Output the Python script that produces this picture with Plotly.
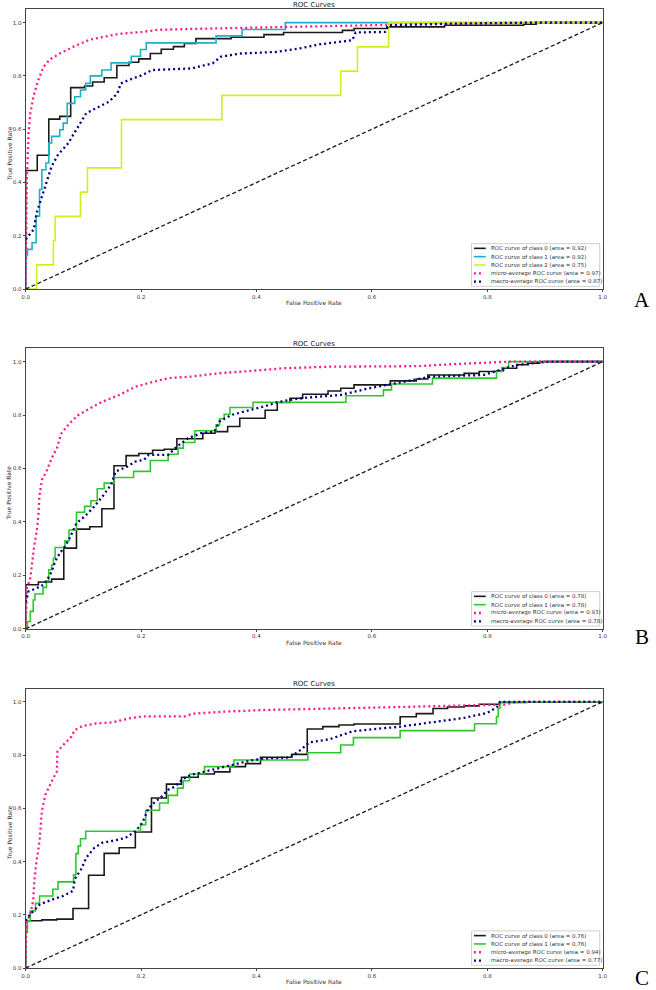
import plotly.graph_objects as go

W, H = 656, 990

# ---------------- Panel A data ----------------
A_c0_fpr = [0, 0, 0.020, 0.040, 0.059, 0.078, 0.102, 0.116, 0.136, 0.158, 0.179, 0.196, 0.216, 0.235, 0.256,
            0.275, 0.295, 0.356, 0.413, 0.447, 0.549, 0.569, 0.626, 0.726, 0.863, 0.885, 1.0]
A_c0_tpr = [0, 0.445, 0.502, 0.638, 0.648, 0.756, 0.762, 0.777, 0.793, 0.839, 0.851, 0.864, 0.884, 0.900, 0.910,
            0.922, 0.940, 0.945, 0.955, 0.963, 0.971, 0.978, 0.984, 0.990, 0.994, 1.0, 1.0]
A_c1_fpr = [0, 0, 0.003, 0.011, 0.018, 0.024, 0.028, 0.035, 0.040, 0.045, 0.059, 0.065, 0.072, 0.085, 0.095,
            0.104, 0.112, 0.132, 0.148, 0.183, 0.199, 0.209, 0.330, 0.375, 0.450, 1.0]
A_c1_tpr = [0, 0.125, 0.149, 0.174, 0.274, 0.374, 0.448, 0.473, 0.548, 0.573, 0.598, 0.623, 0.697, 0.722, 0.747,
            0.772, 0.800, 0.822, 0.849, 0.874, 0.899, 0.924, 0.950, 0.974, 1.0, 1.0]
A_c2_fpr = [0, 0.019, 0.048, 0.051, 0.095, 0.107, 0.166, 0.340, 0.546, 0.575, 0.629, 1.0]
A_c2_tpr = [0, 0.091, 0.182, 0.273, 0.364, 0.455, 0.636, 0.727, 0.818, 0.909, 1.0, 1.0]
A_micro_fpr = [0, 0.001, 0.002, 0.005, 0.008, 0.014, 0.022, 0.031, 0.042, 0.059, 0.085, 0.111, 0.133, 0.162,
               0.202, 0.230, 0.304, 0.418, 0.51, 0.62, 0.68, 0.80, 0.90, 1.0]
A_micro_tpr = [0, 0.30, 0.41, 0.585, 0.66, 0.728, 0.785, 0.834, 0.862, 0.884, 0.912, 0.936, 0.946, 0.958,
               0.965, 0.973, 0.977, 0.983, 0.988, 0.991, 0.993, 0.997, 1.0, 1.0]
A_macro_fpr = [0, 0.014, 0.019, 0.028, 0.036, 0.045, 0.056, 0.074, 0.091, 0.105, 0.122, 0.145, 0.159, 0.165,
               0.179, 0.202, 0.219, 0.247, 0.287, 0.324, 0.338, 0.373, 0.435, 0.475, 0.509, 0.566, 0.572, 0.623,
               0.629, 0.737, 0.88, 1.0]
A_macro_tpr = [0.187, 0.224, 0.286, 0.349, 0.398, 0.461, 0.504, 0.548, 0.610, 0.660, 0.679, 0.704, 0.735, 0.772,
               0.785, 0.803, 0.822, 0.824, 0.828, 0.847, 0.872, 0.884, 0.890, 0.903, 0.918, 0.934, 0.963, 0.965,
               0.990, 0.996, 1.0, 1.0]

# ---------------- Panel B data ----------------
B_c0_fpr = [0, 0, 0.022, 0.045, 0.066, 0.088, 0.111, 0.132, 0.153, 0.174, 0.196, 0.220, 0.240, 0.262, 0.307,
            0.328, 0.350, 0.371, 0.415, 0.436, 0.458, 0.480, 0.524, 0.546, 0.569, 0.632, 0.677, 0.697, 0.760,
            0.786, 0.816, 0.828, 0.851, 0.871, 0.891, 1.0]
B_c0_tpr = [0, 0.165, 0.175, 0.186, 0.302, 0.373, 0.382, 0.449, 0.610, 0.648, 0.656, 0.668, 0.672, 0.711, 0.732,
            0.738, 0.757, 0.788, 0.818, 0.847, 0.863, 0.878, 0.890, 0.900, 0.913, 0.928, 0.935, 0.950, 0.956,
            0.963, 0.966, 0.975, 0.988, 0.994, 1.0, 1.0]
B_c1_fpr = [0, 0.003, 0.008, 0.013, 0.016, 0.030, 0.036, 0.040, 0.045, 0.048, 0.051, 0.068, 0.075, 0.088, 0.102,
            0.113, 0.124, 0.136, 0.153, 0.187, 0.216, 0.247, 0.264, 0.273, 0.293, 0.330, 0.336, 0.344, 0.354,
            0.394, 0.555, 0.620, 0.634, 0.705, 0.816, 0.825, 0.837, 1.0]
B_c1_tpr = [0, 0.027, 0.065, 0.108, 0.130, 0.155, 0.180, 0.221, 0.239, 0.264, 0.304, 0.329, 0.370, 0.436, 0.458,
            0.479, 0.524, 0.545, 0.566, 0.589, 0.630, 0.653, 0.676, 0.697, 0.741, 0.763, 0.786, 0.803, 0.828,
            0.848, 0.872, 0.894, 0.916, 0.938, 0.963, 0.978, 1.0, 1.0]
B_micro_fpr = [0, 0.001, 0.002, 0.008, 0.011, 0.015, 0.019, 0.022, 0.024, 0.028, 0.036, 0.045, 0.054, 0.062,
               0.076, 0.091, 0.111, 0.133, 0.162, 0.190, 0.219, 0.247, 0.287, 0.333, 0.390, 0.447, 0.527, 0.68,
               0.737, 0.84, 1.0]
B_micro_tpr = [0, 0.10, 0.15, 0.19, 0.252, 0.314, 0.364, 0.426, 0.501, 0.557, 0.589, 0.638, 0.676, 0.732,
               0.769, 0.800, 0.825, 0.850, 0.875, 0.906, 0.923, 0.938, 0.944, 0.956, 0.965, 0.975, 0.981, 0.983,
               0.990, 1.0, 1.0]
B_macro_fpr = [0, 0.005, 0.017, 0.031, 0.039, 0.045, 0.051, 0.059, 0.068, 0.076, 0.088, 0.102, 0.116, 0.133,
               0.148, 0.156, 0.176, 0.190, 0.205, 0.213, 0.247, 0.262, 0.281, 0.304, 0.327, 0.336, 0.356, 0.384,
               0.413, 0.435, 0.458, 0.487, 0.526, 0.545, 0.595, 0.629, 0.703, 0.794, 0.823, 0.851, 0.908, 1.0]
B_macro_tpr = [0.10, 0.14, 0.15, 0.165, 0.19, 0.214, 0.252, 0.283, 0.308, 0.339, 0.395, 0.420, 0.451, 0.495,
               0.539, 0.589, 0.607, 0.626, 0.632, 0.651, 0.651, 0.682, 0.713, 0.732, 0.738, 0.776, 0.800, 0.815,
               0.832, 0.847, 0.857, 0.865, 0.872, 0.875, 0.900, 0.913, 0.944, 0.950, 0.969, 0.988, 1.0, 1.0]

# ---------------- Panel C data ----------------
C_c0_fpr = [0, 0, 0.028, 0.054, 0.082, 0.109, 0.136, 0.162, 0.190, 0.218, 0.244, 0.270, 0.299, 0.327, 0.354,
            0.381, 0.407, 0.461, 0.488, 0.515, 0.543, 0.569, 0.649, 0.677, 0.706, 0.731, 0.760, 0.786, 0.821,
            0.868, 1.0]
C_c0_tpr = [0, 0.178, 0.181, 0.184, 0.224, 0.349, 0.431, 0.452, 0.511, 0.639, 0.691, 0.717, 0.729, 0.737, 0.757,
            0.768, 0.792, 0.803, 0.898, 0.907, 0.913, 0.917, 0.944, 0.956, 0.975, 0.981, 0.985, 0.991, 0.998,
            1.0, 1.0]
C_c1_fpr = [0, 0, 0.003, 0.008, 0.017, 0.024, 0.047, 0.056, 0.083, 0.087, 0.091, 0.095, 0.104, 0.199, 0.208,
            0.232, 0.247, 0.263, 0.273, 0.284, 0.310, 0.361, 0.489, 0.546, 0.568, 0.649, 0.778, 0.816, 0.819,
            0.822, 1.0]
C_c1_tpr = [0, 0.134, 0.178, 0.215, 0.243, 0.271, 0.296, 0.324, 0.350, 0.430, 0.458, 0.486, 0.514, 0.539, 0.593,
            0.620, 0.649, 0.676, 0.704, 0.729, 0.757, 0.782, 0.809, 0.838, 0.866, 0.892, 0.918, 0.944, 0.975,
            1.0, 1.0]
C_micro_fpr = [0, 0.001, 0.008, 0.013, 0.015, 0.018, 0.024, 0.028, 0.034, 0.042, 0.048, 0.054, 0.055, 0.065,
               0.079, 0.085, 0.099, 0.122, 0.150, 0.179, 0.202, 0.276, 0.290, 0.350, 0.418, 0.527, 0.68, 0.83,
               0.85, 1.0]
C_micro_tpr = [0, 0.17, 0.203, 0.253, 0.328, 0.39, 0.477, 0.589, 0.651, 0.689, 0.714, 0.738, 0.813, 0.838,
               0.869, 0.894, 0.910, 0.919, 0.923, 0.938, 0.946, 0.946, 0.956, 0.964, 0.970, 0.975, 0.984, 0.990,
               1.0, 1.0]
C_macro_fpr = [0, 0.008, 0.014, 0.025, 0.048, 0.065, 0.082, 0.085, 0.096, 0.105, 0.119, 0.133, 0.153, 0.173,
               0.190, 0.202, 0.213, 0.225, 0.236, 0.247, 0.259, 0.273, 0.287, 0.316, 0.356, 0.390, 0.418, 0.458,
               0.476, 0.492, 0.527, 0.544, 0.567, 0.649, 0.760, 0.800, 0.817, 0.822, 1.0]
C_macro_tpr = [0.178, 0.203, 0.215, 0.240, 0.259, 0.271, 0.290, 0.334, 0.371, 0.415, 0.452, 0.471, 0.479, 0.489,
               0.514, 0.545, 0.601, 0.626, 0.645, 0.670, 0.682, 0.711, 0.726, 0.742, 0.763, 0.780, 0.788, 0.791,
               0.819, 0.848, 0.860, 0.873, 0.890, 0.907, 0.940, 0.959, 0.981, 1.0, 1.0]

diag = [0, 1]
tick_vals = [0.0, 0.2, 0.4, 0.6, 0.8, 1.0]
tick_text = ["0.0", "0.2", "0.4", "0.6", "0.8", "1.0"]

A_labels = ["ROC curve of class 0 (area = 0.92)", "ROC curve of class 1 (area = 0.92)",
            "ROC curve of class 2 (area = 0.75)", "micro-average ROC curve (area = 0.97)",
            "macro-average ROC curve (area = 0.87)"]
B_labels = ["ROC curve of class 0 (area = 0.78)", "ROC curve of class 1 (area = 0.78)",
            "micro-average ROC curve (area = 0.93)", "macro-average ROC curve (area = 0.78)"]
C_labels = ["ROC curve of class 0 (area = 0.76)", "ROC curve of class 1 (area = 0.76)",
            "micro-average ROC curve (area = 0.94)", "macro-average ROC curve (area = 0.77)"]
panel_letters = ["A", "B", "C"]

# ---------------- styles ----------------
BLACK = "#1a1a1a"
CYAN = "#1fb0c8"
YGREEN = "#ccf21e"
GREEN = "#2ec82e"
PINK = "#ff1a8c"
NAVY = "#000080"
FONT = "DejaVu Sans"
DOT = "2px,3px"

solid = dict(width=1.6)
dotted = dict(width=2.3, dash=DOT)

panels = [
    dict(series=[(A_c0_fpr, A_c0_tpr, BLACK, "hv", solid), (A_c1_fpr, A_c1_tpr, CYAN, "hv", solid),
                 (A_c2_fpr, A_c2_tpr, YGREEN, "hv", solid), (A_micro_fpr, A_micro_tpr, PINK, "linear", dotted),
                 (A_macro_fpr, A_macro_tpr, NAVY, "linear", dotted)],
         labels=A_labels, top=9.3, bottom=290.0, letter_y=301),
    dict(series=[(B_c0_fpr, B_c0_tpr, BLACK, "hv", solid), (B_c1_fpr, B_c1_tpr, GREEN, "hv", solid),
                 (B_micro_fpr, B_micro_tpr, PINK, "linear", dotted),
                 (B_macro_fpr, B_macro_tpr, NAVY, "linear", dotted)],
         labels=B_labels, top=349.3, bottom=630.7, letter_y=639),
    dict(series=[(C_c0_fpr, C_c0_tpr, BLACK, "hv", solid), (C_c1_fpr, C_c1_tpr, GREEN, "hv", solid),
                 (C_micro_fpr, C_micro_tpr, PINK, "linear", dotted),
                 (C_macro_fpr, C_macro_tpr, NAVY, "linear", dotted)],
         labels=C_labels, top=690.7, bottom=971.0, letter_y=981),
]

LEFT, RIGHT = 22.0, 607.0


def xp(px):
    return px / W


def yp(py):
    return 1 - py / H


fig = go.Figure()
layout = dict(width=W, height=H, margin=dict(l=0, r=0, t=0, b=0), paper_bgcolor="white",
              plot_bgcolor="white", showlegend=False, font=dict(family=FONT, size=6, color="#333"))
annotations = []
shapes = []

for i, p in enumerate(panels):
    k = "" if i == 0 else str(i + 1)
    xa, ya = "x" + k, "y" + k
    for (fx, ty, col, shape, st), lab in zip(p["series"], p["labels"]):
        fig.add_trace(go.Scatter(x=fx, y=ty, mode="lines", name=lab, xaxis=xa, yaxis=ya,
                                 line=dict(color=col, shape=shape, **st)))
    fig.add_trace(go.Scatter(x=diag, y=diag, mode="lines", xaxis=xa, yaxis=ya, name="chance",
                             line=dict(color=BLACK, width=1.3, dash="4px,2.5px")))
    axis_common = dict(showline=True, mirror=True, linecolor="#444", linewidth=1, showgrid=False,
                       zeroline=False, ticks="outside", ticklen=2, tickwidth=0.8, tickcolor="#444",
                       tickvals=tick_vals, ticktext=tick_text, tickfont=dict(size=5.5, color="#333", family=FONT))
    layout["xaxis" + k] = dict(domain=[xp(LEFT), xp(RIGHT)], range=[0, 1], anchor=ya, **axis_common)
    layout["yaxis" + k] = dict(domain=[yp(p["bottom"]), yp(p["top"])], range=[0, 1.05], anchor=xa,
                               **axis_common)
    cx = (LEFT + RIGHT) / 2
    # title
    annotations.append(dict(text="ROC Curves", x=xp(cx), y=yp(p["top"] - 4.5), xref="paper", yref="paper",
                            showarrow=False, xanchor="center", yanchor="middle",
                            font=dict(size=7, color="#222", family=FONT)))
    # axis labels
    annotations.append(dict(text="False Positive Rate", x=xp(cx), y=yp(p["bottom"] + 13.8), xref="paper",
                            yref="paper", showarrow=False, xanchor="center", yanchor="middle",
                            font=dict(size=6, color="#333", family=FONT)))
    annotations.append(dict(text="True Positive Rate", x=xp(5), y=yp((p["top"] + p["bottom"]) / 2 + 4),
                            xref="paper", yref="paper", showarrow=False, textangle=-90, xanchor="center",
                            yanchor="middle", font=dict(size=6, color="#333", family=FONT)))
    # panel letter
    annotations.append(dict(text=panel_letters[i], x=xp(647), y=yp(p["letter_y"]), xref="paper", yref="paper",
                            showarrow=False, xanchor="center", yanchor="middle",
                            font=dict(size=21, color="black", family="Liberation Serif")))
    # legend (drawn box)
    n = len(p["labels"])
    step = 8.35
    box_r = RIGHT - 3
    box_l = box_r - 130
    box_b = p["bottom"] - 2.8
    box_t = box_b - (9.4 + (n - 1) * step)
    shapes.append(dict(type="rect", xref="paper", yref="paper", x0=xp(box_l), x1=xp(box_r), y0=yp(box_b),
                       y1=yp(box_t), line=dict(color="#d0d0d0", width=1), fillcolor="white", layer="above"))
    for j, ((fx, ty, col, shape, st), lab) in enumerate(zip(p["series"], p["labels"])):
        cy = box_t + 4.7 + j * step
        if st is dotted:
            sl = dict(color=col, width=2.3, dash=DOT)
            x0, x1 = box_l + 2.5, box_l + 11.5
        else:
            sl = dict(color=col, width=1.6)
            x0, x1 = box_l + 2.5, box_l + 14.5
        shapes.append(dict(type="line", xref="paper", yref="paper", x0=xp(x0), x1=xp(x1), y0=yp(cy), y1=yp(cy),
                           line=sl, layer="above"))
        annotations.append(dict(text=lab, x=xp(box_l + 18), y=yp(cy), xref="paper", yref="paper",
                                showarrow=False, xanchor="left", yanchor="middle",
                                font=dict(size=5.5, color="#333", family=FONT)))

layout["annotations"] = annotations
layout["shapes"] = shapes
fig.update_layout(**layout)
fig.write_html("out.html", config={"displayModeBar": False},
               post_script="document.body.style.margin='0';document.body.style.overflow='hidden';")
